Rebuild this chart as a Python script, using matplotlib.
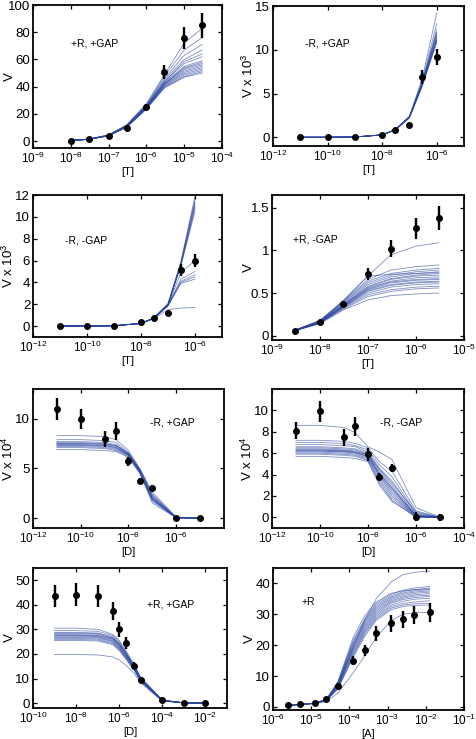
import matplotlib
matplotlib.use("Agg")
import matplotlib.pyplot as plt
from matplotlib.ticker import FixedLocator, FuncFormatter, NullLocator
import numpy as np

plt.rcParams["font.family"] = ["Liberation Sans", "DejaVu Sans"]
plt.rcParams["mathtext.fontset"] = "custom"
plt.rcParams["mathtext.rm"] = "Liberation Sans"

# ── Panel 1: +R, +GAP (titration in T) ─────────────────────────────
p1_x = [1e-8, 3e-8, 1e-7, 3e-7, 1e-6, 3e-6, 1e-5, 3e-5]
p1_v = [0.5, 1.5, 4.0, 10.0, 25.0, 51.0, 76.0, 85.0]
p1_err = [0.8, 0.8, 1.0, 1.2, 2.0, 5.0, 8.0, 9.0]
p1_fits = [
    [0.5, 1.6, 4.6, 12.0, 27.5, 49.0, 72.0, 83.0],
    [0.5, 1.6, 4.5, 11.8, 27.0, 47.5, 67.0, 76.0],
    [0.5, 1.5, 4.4, 11.5, 26.5, 46.0, 63.0, 71.0],
    [0.5, 1.5, 4.4, 11.3, 26.0, 45.0, 60.0, 67.0],
    [0.5, 1.5, 4.3, 11.2, 25.8, 44.0, 57.0, 62.0],
    [0.5, 1.5, 4.3, 11.0, 25.5, 43.0, 55.0, 59.0],
    [0.5, 1.5, 4.2, 11.0, 25.2, 42.5, 53.5, 57.0],
    [0.5, 1.4, 4.2, 10.8, 25.0, 42.0, 52.5, 56.0],
    [0.5, 1.4, 4.1, 10.7, 24.8, 41.5, 51.5, 55.0],
    [0.5, 1.4, 4.1, 10.6, 24.5, 41.0, 50.5, 54.0],
    [0.5, 1.4, 4.0, 10.5, 24.2, 40.5, 49.5, 53.0],
    [0.5, 1.4, 4.0, 10.4, 24.0, 40.0, 48.5, 52.0],
    [0.5, 1.3, 3.9, 10.3, 23.8, 39.5, 47.5, 51.0],
    [0.5, 1.3, 3.9, 10.2, 23.5, 39.0, 47.0, 50.0],
    [0.5, 1.4, 4.1, 10.8, 25.0, 42.0, 54.0, 58.0],
    [0.5, 1.4, 4.2, 11.0, 25.3, 43.5, 58.5, 64.0],
]

# ── Panel 2: -R, +GAP (V x 10^3) ───────────────────────────────────
p2_x = [1e-11, 1e-10, 1e-9, 1e-8, 3e-8, 1e-7, 3e-7, 1e-6]
p2_v = [0.0, 0.0, 0.05, 0.3, 0.8, 1.4, 6.9, 9.2]
p2_err = [0.05, 0.05, 0.05, 0.08, 0.1, 0.1, 0.8, 0.9]
p2_fits = [
    [0, 0, 0.03, 0.28, 0.88, 2.4, 6.8, 14.2],
    [0, 0, 0.03, 0.28, 0.87, 2.35, 6.5, 13.0],
    [0, 0, 0.03, 0.28, 0.86, 2.35, 6.4, 12.3],
    [0, 0, 0.03, 0.27, 0.85, 2.3, 6.3, 12.0],
    [0, 0, 0.03, 0.27, 0.85, 2.3, 6.2, 11.7],
    [0, 0, 0.03, 0.27, 0.84, 2.3, 6.1, 11.4],
    [0, 0, 0.03, 0.27, 0.84, 2.25, 6.0, 11.2],
    [0, 0, 0.03, 0.26, 0.83, 2.25, 6.0, 11.0],
    [0, 0, 0.03, 0.26, 0.82, 2.2, 5.9, 10.8],
    [0, 0, 0.03, 0.27, 0.85, 2.3, 6.1, 11.5],
    [0, 0, 0.03, 0.27, 0.86, 2.3, 6.2, 11.9],
    [0, 0, 0.03, 0.26, 0.84, 2.25, 6.0, 11.1],
]

# ── Panel 3: -R, -GAP (V x 10^3) ───────────────────────────────────
p3_x = [1e-11, 1e-10, 1e-9, 1e-8, 3e-8, 1e-7, 3e-7, 1e-6]
p3_v = [0.0, 0.0, 0.05, 0.35, 0.75, 1.2, 5.1, 6.0]
p3_err = [0.05, 0.05, 0.05, 0.08, 0.1, 0.1, 0.55, 0.6]
p3_fits = [
    [0, 0, 0.03, 0.25, 0.75, 2.05, 5.9, 11.9],
    [0, 0, 0.03, 0.25, 0.75, 2.0, 5.8, 11.6],
    [0, 0, 0.03, 0.25, 0.74, 2.0, 5.7, 11.2],
    [0, 0, 0.03, 0.25, 0.74, 2.0, 5.6, 11.0],
    [0, 0, 0.03, 0.24, 0.73, 1.95, 5.6, 10.8],
    [0, 0, 0.03, 0.24, 0.73, 1.95, 5.5, 10.5],
    [0, 0, 0.03, 0.25, 0.75, 2.0, 5.75, 11.4],
    [0, 0, 0.03, 0.24, 0.72, 1.9, 4.9, 6.0],
    [0, 0, 0.03, 0.24, 0.72, 1.9, 4.3, 5.0],
    [0, 0, 0.03, 0.24, 0.72, 1.9, 4.1, 4.7],
    [0, 0, 0.03, 0.24, 0.71, 1.85, 4.0, 4.5],
    [0, 0, 0.03, 0.24, 0.71, 1.85, 3.9, 4.3],
    [0, 0, 0.03, 0.24, 0.70, 1.5, 1.65, 1.7],
]

# ── Panel 4: +R, -GAP ──────────────────────────────────────────────
p4_x = [3e-9, 1e-8, 3e-8, 1e-7, 3e-7, 1e-6, 3e-6]
p4_v = [0.06, 0.16, 0.37, 0.72, 1.02, 1.26, 1.38]
p4_err = [0.01, 0.015, 0.035, 0.07, 0.1, 0.12, 0.14]
p4_fits = [
    [0.065, 0.17, 0.40, 0.70, 0.95, 1.05, 1.09],
    [0.065, 0.18, 0.41, 0.70, 0.72, 0.73, 0.74],
    [0.065, 0.18, 0.40, 0.66, 0.77, 0.81, 0.83],
    [0.065, 0.17, 0.39, 0.64, 0.73, 0.77, 0.79],
    [0.065, 0.17, 0.38, 0.62, 0.71, 0.75, 0.77],
    [0.06, 0.17, 0.37, 0.60, 0.69, 0.73, 0.75],
    [0.06, 0.16, 0.36, 0.58, 0.67, 0.71, 0.73],
    [0.06, 0.16, 0.36, 0.57, 0.66, 0.70, 0.71],
    [0.06, 0.16, 0.35, 0.56, 0.64, 0.68, 0.69],
    [0.06, 0.16, 0.35, 0.55, 0.63, 0.66, 0.67],
    [0.06, 0.16, 0.34, 0.54, 0.62, 0.65, 0.66],
    [0.06, 0.15, 0.34, 0.53, 0.60, 0.63, 0.64],
    [0.06, 0.15, 0.33, 0.52, 0.59, 0.62, 0.63],
    [0.06, 0.15, 0.33, 0.50, 0.57, 0.60, 0.61],
    [0.06, 0.15, 0.32, 0.48, 0.54, 0.57, 0.58],
    [0.06, 0.15, 0.31, 0.46, 0.52, 0.55, 0.56],
    [0.06, 0.14, 0.30, 0.42, 0.47, 0.49, 0.50],
]

# ── Panel 5: -R, +GAP (V x 10^4), titration in D ───────────────────
p5_x = [1e-11, 1e-10, 1e-9, 3e-9, 1e-8, 3e-8, 1e-7, 1e-6, 1e-5]
p5_v = [11.0, 10.0, 8.0, 8.8, 5.7, 3.7, 3.0, 0.0, 0.0]
p5_err = [1.1, 1.0, 0.8, 0.9, 0.5, 0.3, 0.3, 0.1, 0.1]
p5_fits = [
    [8.3, 8.3, 8.2, 7.9, 6.8, 5.0, 2.6, 0.1, 0],
    [7.9, 7.9, 7.8, 7.6, 6.6, 4.9, 2.4, 0.05, 0],
    [7.7, 7.7, 7.6, 7.4, 6.5, 4.8, 2.2, 0.05, 0],
    [7.6, 7.6, 7.5, 7.3, 6.5, 4.8, 2.1, 0.04, 0],
    [7.5, 7.5, 7.4, 7.2, 6.4, 4.7, 2.0, 0.03, 0],
    [7.4, 7.4, 7.3, 7.1, 6.4, 4.7, 2.0, 0.03, 0],
    [7.3, 7.3, 7.2, 7.0, 6.3, 4.6, 1.9, 0.03, 0],
    [7.2, 7.2, 7.1, 6.9, 6.3, 4.6, 1.8, 0.02, 0],
    [7.1, 7.1, 7.0, 6.8, 6.2, 4.5, 1.7, 0.02, 0],
    [6.9, 6.9, 6.8, 6.7, 6.1, 4.5, 1.5, 0.02, 0],
    [7.5, 7.5, 7.45, 7.3, 6.5, 4.9, 2.3, 0.05, 0],
    [7.35, 7.35, 7.3, 7.1, 6.35, 4.7, 1.9, 0.03, 0],
]

# ── Panel 6: -R, -GAP (V x 10^4), titration in D ───────────────────
p6_x = [1e-11, 1e-10, 1e-9, 3e-9, 1e-8, 3e-8, 1e-7, 1e-6, 1e-5]
p6_v = [8.1, 9.9, 7.5, 8.5, 5.9, 3.8, 4.6, 0.05, 0.0]
p6_err = [0.8, 1.0, 0.8, 0.9, 0.6, 0.3, 0.4, 0.4, 0.3]
p6_fits = [
    [8.6, 8.6, 8.4, 7.9, 6.6, 6.1, 5.4, 0.9, 0],
    [7.2, 7.2, 7.1, 6.9, 6.5, 5.2, 4.3, 0.6, 0],
    [7.0, 7.0, 6.9, 6.7, 6.3, 4.9, 3.8, 0.4, 0],
    [6.8, 6.8, 6.7, 6.6, 6.1, 4.6, 3.4, 0.3, 0],
    [6.6, 6.6, 6.5, 6.4, 6.0, 4.4, 3.0, 0.2, 0],
    [6.5, 6.5, 6.4, 6.3, 5.9, 4.2, 2.8, 0.15, 0],
    [6.4, 6.4, 6.3, 6.2, 5.8, 4.0, 2.6, 0.1, 0],
    [6.3, 6.3, 6.2, 6.1, 5.7, 3.9, 2.4, 0.1, 0],
    [6.2, 6.2, 6.1, 6.0, 5.6, 3.8, 2.2, 0.05, 0],
    [6.1, 6.1, 6.0, 5.9, 5.5, 3.6, 2.0, 0.05, 0],
    [6.0, 6.0, 5.9, 5.8, 5.4, 3.4, 1.8, 0.05, 0],
    [5.9, 5.9, 5.8, 5.7, 5.3, 3.2, 1.6, 0.02, 0],
    [5.7, 5.7, 5.6, 5.5, 5.2, 3.0, 1.5, 0.02, 0],
    [6.3, 6.3, 6.25, 6.1, 5.9, 4.5, 3.2, 0.5, 0],
    [6.2, 6.2, 6.15, 6.05, 5.7, 4.1, 2.7, 0.2, 0],
]

# ── Panel 7: +R, +GAP, titration in D ──────────────────────────────
p7_x = [1e-9, 1e-8, 1e-7, 5e-7, 1e-6, 2e-6, 5e-6, 1e-5, 1e-4, 1e-3, 1e-2]
p7_v = [43.5, 44.2, 43.5, 37.5, 30.0, 24.5, 15.3, 9.2, 1.2, 0.1, 0.0]
p7_err = [4.5, 4.5, 4.5, 3.5, 3.0, 2.5, 1.5, 0.9, 0.3, 0.2, 0.2]
p7_fits = [
    [30.5, 30.5, 30.0, 28.0, 25.5, 21.5, 15.5, 10.5, 1.3, 0.1, 0],
    [29.5, 29.5, 29.2, 27.5, 25.0, 21.0, 15.2, 10.2, 1.2, 0.1, 0],
    [28.8, 28.8, 28.5, 27.0, 24.5, 20.5, 15.0, 10.0, 1.2, 0.1, 0],
    [28.2, 28.2, 28.0, 26.5, 24.0, 20.2, 14.8, 9.8, 1.1, 0.1, 0],
    [27.8, 27.8, 27.5, 26.0, 23.5, 19.8, 14.5, 9.6, 1.1, 0.1, 0],
    [27.4, 27.4, 27.1, 25.6, 23.2, 19.5, 14.3, 9.5, 1.0, 0.1, 0],
    [27.0, 27.0, 26.8, 25.3, 22.8, 19.2, 14.1, 9.3, 1.0, 0.1, 0],
    [26.7, 26.7, 26.5, 25.0, 22.5, 18.9, 13.9, 9.2, 1.0, 0.1, 0],
    [26.3, 26.3, 26.1, 24.6, 22.1, 18.6, 13.7, 9.0, 1.0, 0.1, 0],
    [25.9, 25.9, 25.7, 24.2, 21.8, 18.3, 13.5, 8.9, 0.9, 0.1, 0],
    [25.5, 25.5, 25.3, 23.8, 21.4, 18.0, 13.2, 8.7, 0.9, 0.1, 0],
    [19.8, 19.8, 19.6, 18.8, 17.5, 15.5, 12.0, 8.2, 0.8, 0.1, 0],
    [27.6, 27.6, 27.4, 26.2, 24.0, 20.5, 15.0, 9.8, 1.0, 0.1, 0],
    [28.5, 28.5, 28.3, 26.5, 23.8, 19.8, 14.3, 9.3, 1.0, 0.1, 0],
]

# ── Panel 8: +R, titration in A ────────────────────────────────────
p8_x = [2.5e-6, 5e-6, 1.25e-5, 2.5e-5, 5e-5, 1.25e-4, 2.5e-4, 5e-4,
        1.25e-3, 2.5e-3, 5e-3, 1.25e-2]
p8_v = [0.5, 1.0, 1.4, 2.5, 6.8, 15.0, 18.4, 23.8, 27.1, 28.4, 29.8, 30.6]
p8_err = [0.2, 0.2, 0.3, 0.3, 0.6, 1.5, 1.8, 2.4, 2.7, 2.8, 3.0, 3.0]
p8_fits = [
    [0.5, 0.8, 1.2, 2.2, 7.0, 19.0, 28.0, 35.0, 40.5, 42.8, 43.6, 44.0],
    [0.5, 0.8, 1.3, 2.5, 8.0, 21.5, 28.5, 33.5, 36.5, 37.8, 38.5, 39.0],
    [0.5, 0.8, 1.3, 2.4, 7.8, 21.0, 28.0, 33.0, 36.0, 37.3, 38.0, 38.5],
    [0.5, 0.8, 1.2, 2.4, 7.6, 20.5, 27.5, 32.5, 35.6, 36.9, 37.6, 38.0],
    [0.5, 0.8, 1.2, 2.3, 7.4, 20.0, 27.0, 32.0, 35.2, 36.5, 37.2, 37.6],
    [0.5, 0.8, 1.2, 2.3, 7.2, 19.5, 26.5, 31.5, 34.8, 36.0, 36.8, 37.2],
    [0.5, 0.8, 1.2, 2.3, 7.0, 19.0, 26.0, 31.0, 34.4, 35.6, 36.3, 36.7],
    [0.5, 0.8, 1.2, 2.2, 6.8, 18.5, 25.5, 30.5, 34.0, 35.2, 35.9, 36.2],
    [0.5, 0.8, 1.2, 2.2, 6.6, 18.0, 25.0, 30.0, 33.6, 34.8, 35.4, 35.8],
    [0.5, 0.8, 1.2, 2.2, 6.4, 17.5, 24.5, 29.5, 33.0, 34.2, 34.9, 35.2],
    [0.5, 0.8, 1.1, 2.1, 6.2, 17.0, 24.0, 29.0, 32.5, 33.5, 34.0, 34.4],
    [0.5, 0.8, 1.1, 2.1, 6.0, 16.5, 23.5, 28.5, 32.0, 33.0, 33.4, 33.6],
    [0.5, 0.8, 1.1, 2.0, 5.8, 16.0, 22.8, 28.0, 31.5, 32.5, 32.9, 33.0],
    [0.5, 0.7, 1.0, 1.8, 4.5, 11.0, 16.5, 22.5, 28.0, 30.0, 30.5, 30.6],
    [0.5, 0.8, 1.2, 2.4, 8.2, 22.5, 29.5, 34.0, 36.8, 37.6, 38.0, 38.2],
]

W, H = 477, 739
FIT_COLOR = "#2a44a0"


def log_fmt(v, _pos):
    e = int(round(np.log10(v)))
    return r"$\mathregular{10^{%d}}$" % e


def panel(box, x, v, err, fits, label, lab_xy, xlabel, ylabel,
          xlim, xticks, ylim, yticks):
    l, r, t, b = box
    ax = fig.add_axes([l / W, 1 - b / H, (r - l) / W, (b - t) / H])
    for f in fits:
        ax.plot(x, f, color=FIT_COLOR, lw=0.6, alpha=0.6)
    ax.errorbar(x, v, yerr=err, fmt="o", color="black", ms=4,
                elinewidth=1.7, capsize=0, zorder=5)
    ax.set_xscale("log")
    ax.set_xlim(*xlim)
    ax.set_ylim(*ylim)
    ax.xaxis.set_major_locator(FixedLocator(xticks))
    ax.xaxis.set_major_formatter(FuncFormatter(log_fmt))
    ax.xaxis.set_minor_locator(NullLocator())
    ax.set_yticks(yticks)
    ax.set_yticklabels([("%g" % y) for y in yticks])
    ax.tick_params(direction="in", top=True, right=True, length=3,
                   width=0.9, pad=2)
    ax.tick_params(axis="x", labelsize=8.5)
    ax.tick_params(axis="y", labelsize=9.5)
    for s in ax.spines.values():
        s.set_linewidth(1.3)
    ax.set_xlabel(xlabel, fontsize=8, labelpad=1)
    ax.set_ylabel(ylabel, fontsize=9.5)
    # right-hand edge of the rotated label ~17 px left of the frame
    ax.yaxis.set_label_coords(-17 / (r - l), 0.5)
    ax.text(lab_xy[0], lab_xy[1], label, transform=ax.transAxes,
            fontsize=7.5, va="center")
    return ax


fig = plt.figure(figsize=(W / 100, H / 100), dpi=100)

panel((33, 222, 5, 148), p1_x, p1_v, p1_err, p1_fits, "+R, +GAP", (0.2, 0.73),
      "[T]", "V", (1e-9, 1e-4), [10.0 ** k for k in range(-9, -3)],
      (-5, 100), [0, 20, 40, 60, 80, 100])
panel((273, 464, 6, 146), p2_x, p2_v, p2_err, p2_fits, "-R, +GAP", (0.165, 0.73),
      "[T]", r"V x 10$^{\mathregular{3}}$", (1e-12, 1e-5),
      [1e-12, 1e-10, 1e-8, 1e-6], (-1, 15), [0, 5, 10, 15])
panel((33, 222, 195, 337), p3_x, p3_v, p3_err, p3_fits, "-R, -GAP", (0.17, 0.68),
      "[T]", r"V x 10$^{\mathregular{3}}$", (1e-12, 1e-5),
      [1e-12, 1e-10, 1e-8, 1e-6], (-1, 12), [0, 2, 4, 6, 8, 10, 12])
panel((272, 464, 195, 340), p4_x, p4_v, p4_err, p4_fits, "+R, -GAP", (0.11, 0.69),
      "[T]", "V", (1e-9, 1e-5), [10.0 ** k for k in range(-9, -4)],
      (-0.05, 1.65), [0, 0.5, 1, 1.5])
panel((33, 224, 389, 528), p5_x, p5_v, p5_err, p5_fits, "-R, +GAP", (0.61, 0.76),
      "[D]", r"V x 10$^{\mathregular{4}}$", (1e-12, 1e-4),
      [1e-12, 1e-10, 1e-8, 1e-6], (-1, 13), [0, 5, 10])
panel((272, 464, 389, 528), p6_x, p6_v, p6_err, p6_fits, "-R, -GAP", (0.56, 0.76),
      "[D]", r"V x 10$^{\mathregular{4}}$", (1e-12, 1e-4),
      [1e-12, 1e-10, 1e-8, 1e-6, 1e-4], (-1, 12), [0, 2, 4, 6, 8, 10])
panel((33, 227, 568, 708), p7_x, p7_v, p7_err, p7_fits, "+R, +GAP", (0.59, 0.74),
      "[D]", "V", (1e-10, 1e-1), [1e-10, 1e-8, 1e-6, 1e-4, 1e-2],
      (-2, 55), [0, 10, 20, 30, 40, 50])
panel((273, 464, 568, 710), p8_x, p8_v, p8_err, p8_fits, "+R", (0.15, 0.76),
      "[A]", "V", (1e-6, 1e-1), [10.0 ** k for k in range(-6, 0)],
      (-1, 45), [0, 10, 20, 30, 40])

fig.savefig("out.png", dpi=100)
